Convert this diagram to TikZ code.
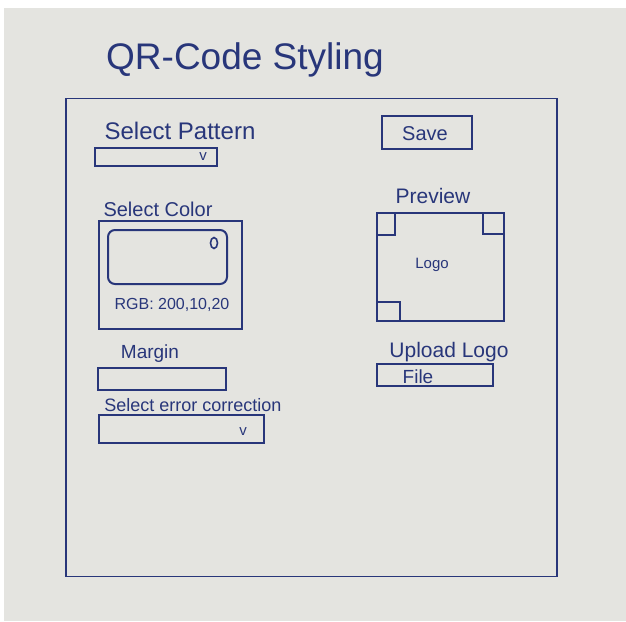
\documentclass[tikz,border=0pt]{standalone}
\usepackage{fontspec}
\setmainfont{Liberation Sans}
\usetikzlibrary{shapes.geometric}
\definecolor{ink}{RGB}{40,54,122}
\definecolor{paper}{RGB}{228,228,224}
\newcommand{\fs}[1]{\fontsize{#1}{#1}\selectfont}
\begin{document}
\begin{tikzpicture}[x=1pt,y=-1pt,
  box/.style={draw=ink, line width=2pt, inner sep=0pt, outer sep=0pt},
  lbl/.style={text=ink, inner sep=0pt, outer sep=0pt, anchor=center}]
\useasboundingbox (0,0) rectangle (626,621);
\fill[white] (0,0) rectangle (626,621);
\fill[paper] (4,8) rectangle (626,621);

% title
\node[lbl, font=\fs{37}] (title) at (245,60) {QR-Code Styling};

% outer frame
\node[box, line width=1.5pt, minimum width=491pt, minimum height=478pt] (frame) at (311.5,337.5) {};

% select pattern
\node[lbl, font=\fs{24}] (patlbl) at (180,131) {Select Pattern};
\node[box, minimum width=122pt, minimum height=18pt] (patdd) at (156,157) {};
\node[lbl, font=\fs{15}] (patv) at (203,157) {v};

% select color
\node[lbl, font=\fs{20}] (collbl) at (158,209) {Select Color};
\node[box, minimum width=143pt, minimum height=108pt] (colbox) at (170.5,275) {};
\node[box, rounded corners=7pt, minimum width=119pt, minimum height=54pt] (colarea) at (167.5,257) {};
\node[box, ellipse, line width=1.6pt, minimum width=7pt, minimum height=11pt] (picker) at (214,243) {};
\node[lbl, font=\fs{16}] (rgb) at (172,305) {RGB: 200,10,20};

% margin
\node[lbl, font=\fs{19}] (marlbl) at (150,354) {Margin};
\node[box, minimum width=128pt, minimum height=22pt] (marbox) at (162,379) {};

% error correction
\node[lbl, font=\fs{18}] (errlbl) at (193,405) {Select error correction};
\node[box, minimum width=165pt, minimum height=28pt] (errdd) at (181.5,429) {};
\node[lbl, font=\fs{15}] (errv) at (243,432) {v};

% save
\node[box, minimum width=90pt, minimum height=33pt] (save) at (427,132.5) {};
\node[lbl, font=\fs{20}] (savetxt) at (425,134) {Save};

% preview
\node[lbl, font=\fs{21}] (prevlbl) at (433,196) {Preview};
\node[box, minimum width=127pt, minimum height=108pt] (prevbox) at (440.5,267) {};
\node[box, minimum width=18pt, minimum height=22pt] (cortl) at (386,224) {};
\node[box, minimum width=21pt, minimum height=21pt] (cortr) at (493.5,223.5) {};
\node[box, minimum width=23pt, minimum height=19pt] (corbl) at (388.5,311.5) {};
\node[lbl, font=\fs{15}] (logo) at (432,265) {Logo};

% upload logo
\node[lbl, font=\fs{21}] (uplbl) at (449,352) {Upload Logo};
\node[box, minimum width=116pt, minimum height=22pt] (filebox) at (435,375) {};
\node[lbl, font=\fs{19}] (filetxt) at (418,377) {File};
\end{tikzpicture}
\end{document}
